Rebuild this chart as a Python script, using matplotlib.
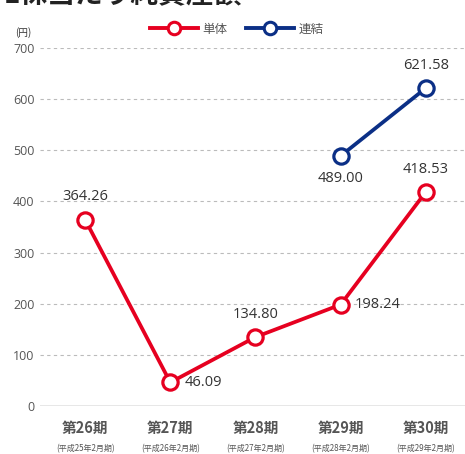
import matplotlib
matplotlib.use("Agg")
import matplotlib.pyplot as plt
from matplotlib.lines import Line2D

plt.rcParams['font.family'] = ['Noto Sans CJK JP', 'DejaVu Sans']

periods = ["第26期", "第27期", "第28期", "第29期", "第30期"]
fiscal = ["(平成25年2月期)", "(平成26年2月期)", "(平成27年2月期)",
          "(平成28年2月期)", "(平成29年2月期)"]
standalone = [364.26, 46.09, 134.80, 198.24, 418.53]
consolidated_idx = [3, 4]
consolidated = [489.00, 621.58]
yticks = [0, 100, 200, 300, 400, 500, 600, 700]

RED = "#e60020"
BLUE = "#0b2f86"
TXT = "#333333"
NUMFONT = ['Open Sans', 'DejaVu Sans']

fig = plt.figure(figsize=(4.65, 4.54), dpi=100)
W, H = 465, 454
ax = fig.add_axes([40 / W, 1 - 406 / H, 1 - 40 / W, (406 - 48) / H])
ax.set_xlim(-0.53, 4.46)
ax.set_ylim(0, 700)

for v in yticks[1:]:
    ax.axhline(v, color="#bbbbbb", lw=0.8, ls=(0, (3, 3)), zorder=1)
ax.axhline(0, color="#888888", lw=1.0, zorder=1)

for s in ax.spines.values():
    s.set_visible(False)
ax.tick_params(length=0)
ax.set_yticks(yticks)
ax.set_yticklabels([str(v) for v in yticks], fontsize=9, color="#555555",
                   family=NUMFONT)
ax.tick_params(axis='y', pad=4)
ax.set_xticks([])

mk = dict(marker='o', markersize=11, markerfacecolor='white',
          markeredgewidth=2.3, lw=2.7, zorder=3, clip_on=False)
x = list(range(len(periods)))
ax.plot(x, standalone, color=RED, **mk)
ax.plot(consolidated_idx, consolidated, color=BLUE, **mk)

# value labels
offsets_s = [(0, 11, 'center', 'bottom'), (10, 0, 'left', 'center'),
             (0, 11, 'center', 'bottom'), (10, 0, 'left', 'center'),
             (0, 11, 'center', 'bottom')]
for xi, v, (dx, dy, ha, va) in zip(x, standalone, offsets_s):
    ax.annotate(f"{v:.2f}", (xi, v), xytext=(dx, dy), textcoords='offset points',
                ha=ha, va=va, fontsize=10.5, color=TXT, family=NUMFONT)
offsets_c = [(0, -11, 'center', 'top'), (0, 11, 'center', 'bottom')]
for xi, v, (dx, dy, ha, va) in zip(consolidated_idx, consolidated, offsets_c):
    ax.annotate(f"{v:.2f}", (xi, v), xytext=(dx, dy), textcoords='offset points',
                ha=ha, va=va, fontsize=10.5, color=TXT, family=NUMFONT)

# category labels
for xi, p, f in zip(x, periods, fiscal):
    ax.annotate(p, (xi, 0), xytext=(0, -16), textcoords='offset points',
                ha='center', va='center', fontsize=10.5, color="#555555",
                fontweight='bold')
    ax.annotate(f, (xi, 0), xytext=(0, -31), textcoords='offset points',
                ha='center', va='center', fontsize=5.8, color="#555555")

# unit and legend
fig.text(15 / W, 1 - 33 / H, "(円)", fontsize=7, color=TXT, ha='left', va='center')
handles = [Line2D([0], [0], color=RED, marker='o', markersize=9,
                  markerfacecolor='white', markeredgewidth=2.2, lw=2.8),
           Line2D([0], [0], color=BLUE, marker='o', markersize=9,
                  markerfacecolor='white', markeredgewidth=2.2, lw=2.8)]
fig.legend(handles, ["単体", "連結"], loc='center', bbox_to_anchor=(237 / W, 1 - 29 / H),
           ncol=2, frameon=False, fontsize=9, handlelength=3.8, columnspacing=1.5,
           handletextpad=0.4, labelcolor="#555555")

# title, partly above the top edge
fig.text(4 / W, 1 - 8 / H, "1株当たり純資産額", fontsize=20, fontweight='bold',
         color="#222222", ha='left', va='bottom')

fig.savefig("out.png", dpi=100)
